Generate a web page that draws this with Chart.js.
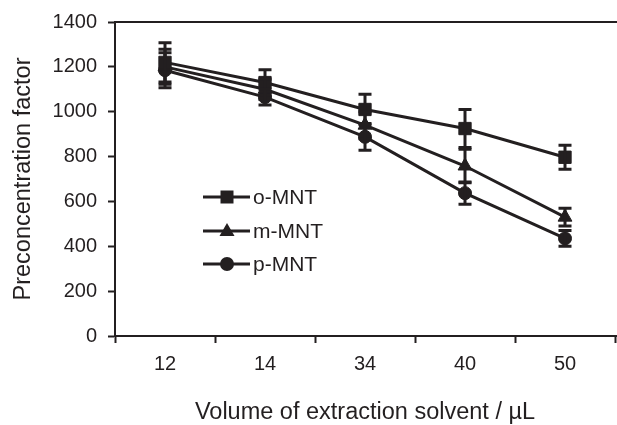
<!DOCTYPE html>
<html>
<head>
<meta charset="utf-8">
<script src="https://cdn.jsdelivr.net/npm/chart.js@4.4.0/dist/chart.umd.min.js"></script>
<style>
  html, body { margin: 0; padding: 0; background: #fff; }
  #wrap { width: 617px; height: 425px; }
</style>
</head>
<body>
<div id="wrap"><canvas id="myChart" width="617" height="425"></canvas></div>
<script>
'use strict';

// data
let volumes = ['12', '14', '34', '40', '50'];
let oMNT = [1220, 1130, 1010, 925, 797];
let oErr = [88, 57, 68, 85, 53];
let mMNT = [1200, 1100, 940, 758, 530];
let mErr = [78, 45, 60, 75, 40];
let pMNT = [1185, 1065, 888, 637, 435];
let pErr = [78, 35, 60, 50, 35];
let yTicks = [0, 200, 400, 600, 800, 1000, 1200, 1400];

let ink = '#231f20';
let font = 'Liberation Sans, Arial, sans-serif';

function drawMarker(ctx, style, x, y) {
    ctx.save();
    ctx.fillStyle = ink;
    ctx.beginPath();
    if (style === 'rect') {
        ctx.rect(x - 6.5, y - 6.5, 13, 13);
    } else if (style === 'triangle') {
        ctx.moveTo(x, y - 8);
        ctx.lineTo(x + 7.5, y + 5);
        ctx.lineTo(x - 7.5, y + 5);
        ctx.closePath();
    } else {
        ctx.arc(x, y, 7, 0, Math.PI * 2);
    }
    ctx.fill();
    ctx.restore();
}

// error bars, positioned through the chart scales
let errorBars = {
    id: 'errorBars',
    afterDatasetsDraw(chart) {
        let ctx = chart.ctx;
        let yScale = chart.scales.y;
        ctx.save();
        ctx.strokeStyle = ink;
        ctx.lineWidth = 3;
        chart.data.datasets.forEach(function (ds, i) {
            let meta = chart.getDatasetMeta(i);
            meta.data.forEach(function (pt, j) {
                let v = ds.data[j];
                let e = ds.errors[j];
                let top = yScale.getPixelForValue(v + e);
                let bot = yScale.getPixelForValue(v - e);
                ctx.beginPath();
                ctx.moveTo(pt.x, top);
                ctx.lineTo(pt.x, bot);
                ctx.moveTo(pt.x - 6.5, top);
                ctx.lineTo(pt.x + 6.5, top);
                ctx.moveTo(pt.x - 6.5, bot);
                ctx.lineTo(pt.x + 6.5, bot);
                ctx.stroke();
            });
        });
        ctx.restore();
    }
};

// top frame line + legend drawn inside the plot
let frameAndLegend = {
    id: 'frameAndLegend',
    afterDraw(chart) {
        let ctx = chart.ctx;
        let area = chart.chartArea;
        ctx.save();
        ctx.strokeStyle = ink;
        ctx.lineWidth = 2;
        ctx.beginPath();
        ctx.moveTo(area.left, area.top);
        ctx.lineTo(chart.width, area.top);
        ctx.moveTo(area.right, area.bottom);
        ctx.lineTo(chart.width, area.bottom);
        ctx.stroke();

        let rows = [197, 231, 264];
        chart.data.datasets.forEach(function (ds, i) {
            let y = rows[i];
            ctx.strokeStyle = ink;
            ctx.lineWidth = 3;
            ctx.beginPath();
            ctx.moveTo(203, y);
            ctx.lineTo(250, y);
            ctx.stroke();
            drawMarker(ctx, ds.pointStyle, 227, y);
            ctx.fillStyle = ink;
            ctx.font = '21px ' + font;
            ctx.textAlign = 'left';
            ctx.textBaseline = 'middle';
            ctx.fillText(ds.label, 253, y + 1);
        });
        ctx.restore();
    }
};

let ctx = document.getElementById('myChart').getContext('2d');

function series(label, values, errors, style, radius) {
    return {
        label: label,
        data: values,
        errors: errors,
        borderColor: ink,
        backgroundColor: ink,
        borderWidth: 3,
        pointStyle: style,
        pointRadius: radius,
        pointBorderWidth: 1,
        pointBackgroundColor: ink,
        pointBorderColor: ink,
        tension: 0
    };
}

let myChart = new Chart(ctx, {
    type: 'line',
    data: {
        labels: volumes,
        datasets: [
            series('o-MNT', oMNT, oErr, 'rect', 8.7),
            series('m-MNT', mMNT, mErr, 'triangle', 8),
            series('p-MNT', pMNT, pErr, 'circle', 6.5)
        ]
    },
    options: {
        responsive: false,
        animation: false,
        devicePixelRatio: 1,
        layout: { padding: { top: 22, right: 2, bottom: 0, left: 0 } },
        plugins: {
            legend: { display: false },
            tooltip: { enabled: false }
        },
        scales: {
            x: {
                type: 'category',
                offset: true,
                grid: {
                    display: true,
                    offset: true,
                    drawOnChartArea: false,
                    drawTicks: true,
                    tickLength: 7,
                    tickWidth: 2,
                    color: ink
                },
                border: { display: true, color: ink, width: 2 },
                ticks: {
                    color: ink,
                    font: { family: font, size: 20 },
                    padding: 9,
                    maxRotation: 0
                },
                title: {
                    display: true,
                    text: 'Volume of extraction solvent / \u00b5L',
                    color: ink,
                    font: { family: font, size: 23.5 },
                    padding: { top: 0, bottom: -2 }
                },
                afterFit(scale) {
                    scale.height = 89;
                    scale.paddingLeft = 0;
                    scale.paddingRight = 0;
                }
            },
            y: {
                min: 0,
                max: 1400,
                afterBuildTicks(scale) {
                    scale.ticks = yTicks.map(function (v) { return { value: v }; });
                },
                grid: {
                    display: true,
                    drawOnChartArea: false,
                    drawTicks: true,
                    tickLength: 7,
                    tickWidth: 2,
                    color: ink
                },
                border: { display: true, color: ink, width: 2 },
                ticks: {
                    color: ink,
                    font: { family: font, size: 20 },
                    padding: 11,
                    callback: function (value) { return String(value); }
                },
                title: {
                    display: true,
                    text: 'Preconcentration factor',
                    color: ink,
                    font: { family: font, size: 23.5 },
                    padding: { top: 9, bottom: 0 }
                },
                afterFit(scale) {
                    scale.width = 115;
                    scale.paddingTop = 0;
                    scale.paddingBottom = 0;
                }
            }
        }
    },
    plugins: [errorBars, frameAndLegend, {
        id: 'fixArea',
        // the layout leaves a few pixels spare on the right; pull the plot edge to 615
        afterLayout(chart) {
            let x = chart.scales.x;
            let target = chart.width - 2;
            x.right = target;
            x.width = target - x.left;
            x.configure();
            chart.chartArea.right = target;
            chart.chartArea.width = target - chart.chartArea.left;
        }
    }]
});
</script>
</body>
</html>
